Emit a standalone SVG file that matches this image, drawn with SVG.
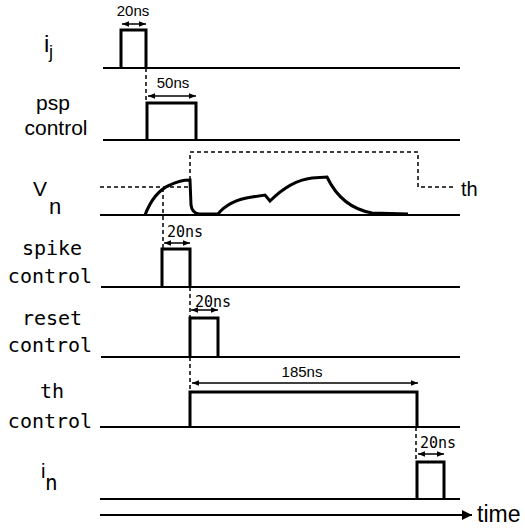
<svg xmlns="http://www.w3.org/2000/svg" width="525" height="532" viewBox="0 0 525 532">
<defs>
<marker id="ah" viewBox="0 0 10 10" refX="10" refY="5" markerWidth="7" markerHeight="7" markerUnits="userSpaceOnUse" orient="auto-start-reverse">
<path d="M0,1 L10,5 L0,9 Z" fill="#000"/>
</marker>
<marker id="ahBig" viewBox="0 0 10 10" refX="10" refY="5" markerWidth="12" markerHeight="10" markerUnits="userSpaceOnUse" orient="auto">
<path d="M0,0 L10,5 L0,10 Z" fill="#000"/>
</marker>
</defs>
<style>
.base{stroke:#000;stroke-width:2;fill:none}
.pulse{stroke:#000;stroke-width:3;fill:none;stroke-linejoin:miter}
.dash{stroke:#000;stroke-width:1.5;fill:none;stroke-dasharray:4,3}
.dim{stroke:#000;stroke-width:1.5;fill:none;marker-start:url(#ah);marker-end:url(#ah)}
.sans{font-family:"Liberation Sans",Arial,sans-serif;fill:#000}
.mono{font-family:"DejaVu Sans Mono","Liberation Mono",monospace;fill:#000}
</style>
<rect width="525" height="532" fill="#fff"/>

<g id="label-ij">
<text class="sans" x="44" y="52" font-size="24">i</text>
<text class="sans" x="49" y="58" font-size="18">j</text>
</g>
<g id="label-psp">
<text class="sans" x="53" y="110" font-size="21" text-anchor="middle">psp</text>
<text class="sans" x="56" y="135" font-size="21" text-anchor="middle">control</text>
</g>
<g id="label-vn">
<text class="sans" x="33" y="196" font-size="21">V</text>
<text class="sans" x="49" y="214" font-size="22">n</text>
</g>
<g id="label-spike">
<text class="mono" x="52" y="255" font-size="20" text-anchor="middle">spike</text>
<text class="mono" x="50" y="283" font-size="20" text-anchor="middle">control</text>
</g>
<g id="label-reset">
<text class="mono" x="52" y="325" font-size="20" text-anchor="middle">reset</text>
<text class="mono" x="50" y="352" font-size="20" text-anchor="middle">control</text>
</g>
<g id="label-th">
<text class="mono" x="52" y="398" font-size="20" text-anchor="middle">th</text>
<text class="mono" x="50" y="428" font-size="20" text-anchor="middle">control</text>
</g>
<g id="label-in">
<text class="sans" x="41" y="478" font-size="20">i</text>
<text class="mono" x="45" y="490" font-size="21">n</text>
</g>

<g id="signal-ij">
<line class="base" x1="103" y1="68" x2="460" y2="68"/>
<path class="pulse" d="M121,68 V30 H146 V68"/>
</g>
<g id="signal-psp">
<line class="base" x1="103" y1="140" x2="460" y2="140"/>
<path class="pulse" d="M147,140 V103 H196 V140"/>
</g>
<g id="signal-vn">
<line class="base" x1="100" y1="215" x2="460" y2="215"/>
<path class="pulse" d="M145,215 C150,202 158,190 170,185 C178,181 184,180 190,180 L191,205 Q192,213 199,214 L218,214 C226,204 238,199 252,197 L265,195 L270,201 C282,189 295,180 312,178 L327,177 C336,196 350,209 372,213 L408,214"/>
</g>
<g id="signal-spike">
<line class="base" x1="101" y1="287" x2="460" y2="287"/>
<path class="pulse" d="M162,287 V249 H190 V287"/>
</g>
<g id="signal-reset">
<line class="base" x1="101" y1="357" x2="460" y2="357"/>
<path class="pulse" d="M190,357 V318 H218 V357"/>
</g>
<g id="signal-th">
<line class="base" x1="100" y1="427" x2="460" y2="427"/>
<path class="pulse" d="M190,427 V392 H417 V427"/>
</g>
<g id="signal-in">
<line class="base" x1="100" y1="499" x2="460" y2="499"/>
<path class="pulse" d="M417,499 V462 H444 V499"/>
</g>

<g id="connectors">
<line class="dash" x1="146" y1="68" x2="146" y2="103"/>
<line class="dash" x1="100" y1="187" x2="190" y2="187"/>
<path class="dash" d="M190,180 V152 H418 V187 H453"/>
<line class="dash" x1="163" y1="188" x2="163" y2="249"/>
<line class="dash" x1="190" y1="287" x2="190" y2="318"/>
<line class="dash" x1="190" y1="357" x2="190" y2="392"/>
<line class="dash" x1="416" y1="427" x2="416" y2="462"/>
<line class="dim" x1="122" y1="24" x2="146" y2="24"/>
<line class="dim" x1="148" y1="96" x2="196" y2="96"/>
<line class="dim" x1="164" y1="243" x2="190" y2="243"/>
<line class="dim" x1="191" y1="310" x2="218" y2="310"/>
<line class="dim" x1="192" y1="383" x2="418" y2="383"/>
<line class="dim" x1="418" y1="454" x2="444" y2="454"/>
<line stroke="#000" stroke-width="2" x1="100" y1="515" x2="472" y2="515" marker-end="url(#ahBig)"/>
</g>

<g id="dim-labels">
<text class="sans" x="133" y="16" font-size="15" text-anchor="middle">20ns</text>
<text class="sans" x="173" y="88" font-size="15" text-anchor="middle">50ns</text>
<text class="mono" x="167" y="237" font-size="15">20ns</text>
<text class="mono" x="195" y="307" font-size="15">20ns</text>
<text class="sans" x="302" y="377" font-size="15" text-anchor="middle">185ns</text>
<text class="mono" x="420" y="448" font-size="15">20ns</text>
<text class="sans" x="461" y="196" font-size="20">th</text>
<text class="sans" x="477" y="522" font-size="23">time</text>
</g>
</svg>
